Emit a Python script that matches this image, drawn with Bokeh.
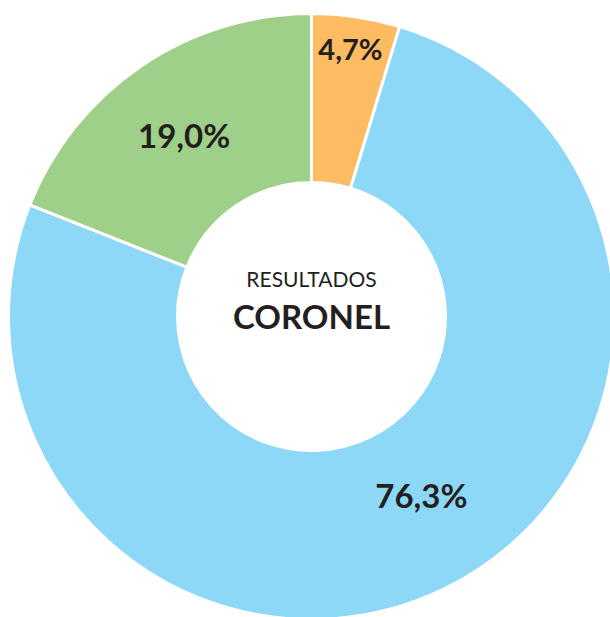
import math
from bokeh.plotting import figure
from bokeh.models import ColumnDataSource, Range1d
from bokeh.core.properties import value
from bokeh.embed import file_html
from bokeh.resources import INLINE

# Data
categories = ["Naranja", "Celeste", "Verde"]
shares = [4.7, 76.3, 19.0]
labels = ["4,7%", "76,3%", "19,0%"]
colors = ["#FDBB62", "#8DD8F7", "#9FD08A"]

# Style (label placement)
label_r = [271, 210, 222]
label_da = [0.2, 5.8, 0.8]   # degree tweaks
label_size = ["29px", "33px", "33px"]

W, H = 610, 617
cx, cy = 311, H - 316
R_out, R_in = 303, 134

total = sum(shares)
starts, ends, lx, ly = [], [], [], []
ang = math.pi / 2
for s, r, da in zip(shares, label_r, label_da):
    span = s / total * 2 * math.pi
    starts.append(ang)
    ends.append(ang - span)
    mid = ang - span / 2 + math.radians(da)
    lx.append(cx + r * math.cos(mid))
    ly.append(cy + r * math.sin(mid))
    ang -= span

src = ColumnDataSource(dict(start=starts, end=ends, color=colors, cat=categories,
                            lx=lx, ly=ly, label=labels, size=label_size))

p = figure(width=W, height=H, output_backend="svg", toolbar_location=None,
           x_range=Range1d(0, W), y_range=Range1d(0, H), min_border=0)
p.axis.visible = False
p.grid.visible = False
p.outline_line_color = None
p.background_fill_color = "white"
p.border_fill_color = "white"

p.annular_wedge(x=cx, y=cy, inner_radius=R_in, outer_radius=R_out,
                start_angle="start", end_angle="end", direction="clock",
                fill_color="color", line_color="white", line_width=3, source=src)

p.text(x="lx", y="ly", text="label", source=src, text_align="center",
       text_baseline="middle", text_font=value("Lato"), text_font_style="bold",
       text_font_size="size", text_color="#231F20")

p.text(x=[cx], y=[cy + 38], text=["RESULTADOS"], text_align="center",
       text_baseline="middle", text_font=value("Lato"), text_font_size="21px",
       text_color="#231F20")
p.text(x=[cx], y=[cy + 1], text=["CORONEL"], text_align="center",
       text_baseline="middle", text_font=value("Lato"), text_font_style="bold",
       text_font_size="33px", text_color="#231F20")

open("out.html", "w").write(file_html(p, INLINE))
